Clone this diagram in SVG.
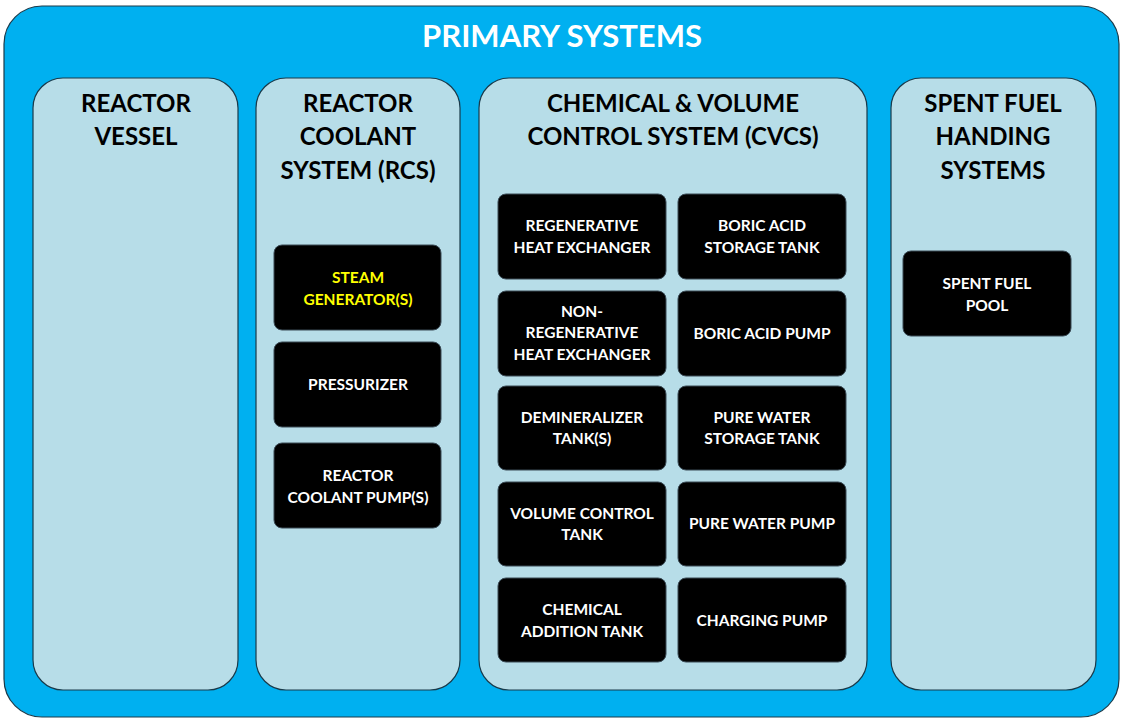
<svg xmlns="http://www.w3.org/2000/svg" width="1121" height="719" viewBox="0 0 1121 719">
<style>
.outer{fill:#00b0f0;stroke:#1a3a4a;stroke-width:1.2}
.panel{fill:#b7dde8;stroke:#1a3a4a;stroke-width:1.2}
.box{fill:#000;stroke:#3a4a55;stroke-width:1}
text{font-family:Lato,"Liberation Sans",sans-serif;font-weight:700;text-anchor:middle}
.title{fill:#fff;font-size:31px}
.ptitle{fill:#000;font-size:24px}
.btext{fill:#fff;font-size:15.5px}
.yel{fill:#ffff00}
</style>
<g id="primary-systems">
<rect class="outer" x="4" y="6" width="1115" height="711" rx="38"/>
<text class="title" x="562" y="47">PRIMARY SYSTEMS</text>
</g>
<g id="reactor-vessel">
<rect class="panel" x="33" y="78" width="205" height="612" rx="30"/>
<text class="ptitle" x="136" y="112">REACTOR</text>
<text class="ptitle" x="136" y="145">VESSEL</text>
</g>
<g id="rcs">
<rect class="panel" x="256" y="78" width="204" height="612" rx="30"/>
<text class="ptitle" x="358" y="112">REACTOR</text>
<text class="ptitle" x="358" y="145">COOLANT</text>
<text class="ptitle" x="358" y="179">SYSTEM (RCS)</text>
</g>
<g id="cvcs">
<rect class="panel" x="479" y="78" width="388" height="612" rx="30"/>
<text class="ptitle" x="673" y="112">CHEMICAL &amp; VOLUME</text>
<text class="ptitle" x="673" y="145">CONTROL SYSTEM (CVCS)</text>
</g>
<g id="sfh">
<rect class="panel" x="891" y="78" width="205" height="612" rx="30"/>
<text class="ptitle" x="993" y="112">SPENT FUEL</text>
<text class="ptitle" x="993" y="145">HANDING</text>
<text class="ptitle" x="993" y="179">SYSTEMS</text>
</g>
<g id="steam-generator">
<rect class="box" x="274" y="245" width="167" height="85" rx="8"/>
<text class="btext yel" x="358" y="283">STEAM</text>
<text class="btext yel" x="358" y="305">GENERATOR(S)</text>
</g>
<g id="pressurizer">
<rect class="box" x="274" y="342" width="167" height="85" rx="8"/>
<text class="btext" x="358" y="390">PRESSURIZER</text>
</g>
<g id="rcp">
<rect class="box" x="274" y="443" width="167" height="85" rx="8"/>
<text class="btext" x="358" y="481">REACTOR</text>
<text class="btext" x="358" y="503">COOLANT PUMP(S)</text>
</g>
<g id="regen-hx">
<rect class="box" x="498" y="194" width="168" height="85" rx="8"/>
<text class="btext" x="582" y="231">REGENERATIVE</text>
<text class="btext" x="582" y="253">HEAT EXCHANGER</text>
</g>
<g id="boric-acid-tank">
<rect class="box" x="678" y="194" width="168" height="85" rx="8"/>
<text class="btext" x="762" y="231">BORIC ACID</text>
<text class="btext" x="762" y="253">STORAGE TANK</text>
</g>
<g id="non-regen-hx">
<rect class="box" x="498" y="291" width="168" height="85" rx="8"/>
<text class="btext" x="582" y="317">NON-</text>
<text class="btext" x="582" y="338">REGENERATIVE</text>
<text class="btext" x="582" y="360">HEAT EXCHANGER</text>
</g>
<g id="boric-acid-pump">
<rect class="box" x="678" y="291" width="168" height="85" rx="8"/>
<text class="btext" x="762" y="339">BORIC ACID PUMP</text>
</g>
<g id="demineralizer">
<rect class="box" x="498" y="386" width="168" height="84" rx="8"/>
<text class="btext" x="582" y="423">DEMINERALIZER</text>
<text class="btext" x="582" y="444">TANK(S)</text>
</g>
<g id="pure-water-tank">
<rect class="box" x="678" y="386" width="168" height="84" rx="8"/>
<text class="btext" x="762" y="423">PURE WATER</text>
<text class="btext" x="762" y="444">STORAGE TANK</text>
</g>
<g id="vct">
<rect class="box" x="498" y="482" width="168" height="84" rx="8"/>
<text class="btext" x="582" y="519">VOLUME CONTROL</text>
<text class="btext" x="582" y="540">TANK</text>
</g>
<g id="pure-water-pump">
<rect class="box" x="678" y="482" width="168" height="84" rx="8"/>
<text class="btext" x="762" y="529">PURE WATER PUMP</text>
</g>
<g id="chem-addition">
<rect class="box" x="498" y="578" width="168" height="84" rx="8"/>
<text class="btext" x="582" y="615">CHEMICAL</text>
<text class="btext" x="582" y="637">ADDITION TANK</text>
</g>
<g id="charging-pump">
<rect class="box" x="678" y="578" width="168" height="84" rx="8"/>
<text class="btext" x="762" y="626">CHARGING PUMP</text>
</g>
<g id="spent-fuel-pool">
<rect class="box" x="903" y="251" width="168" height="85" rx="8"/>
<text class="btext" x="987" y="289">SPENT FUEL</text>
<text class="btext" x="987" y="311">POOL</text>
</g>
<g id="connectors"/>
</svg>
